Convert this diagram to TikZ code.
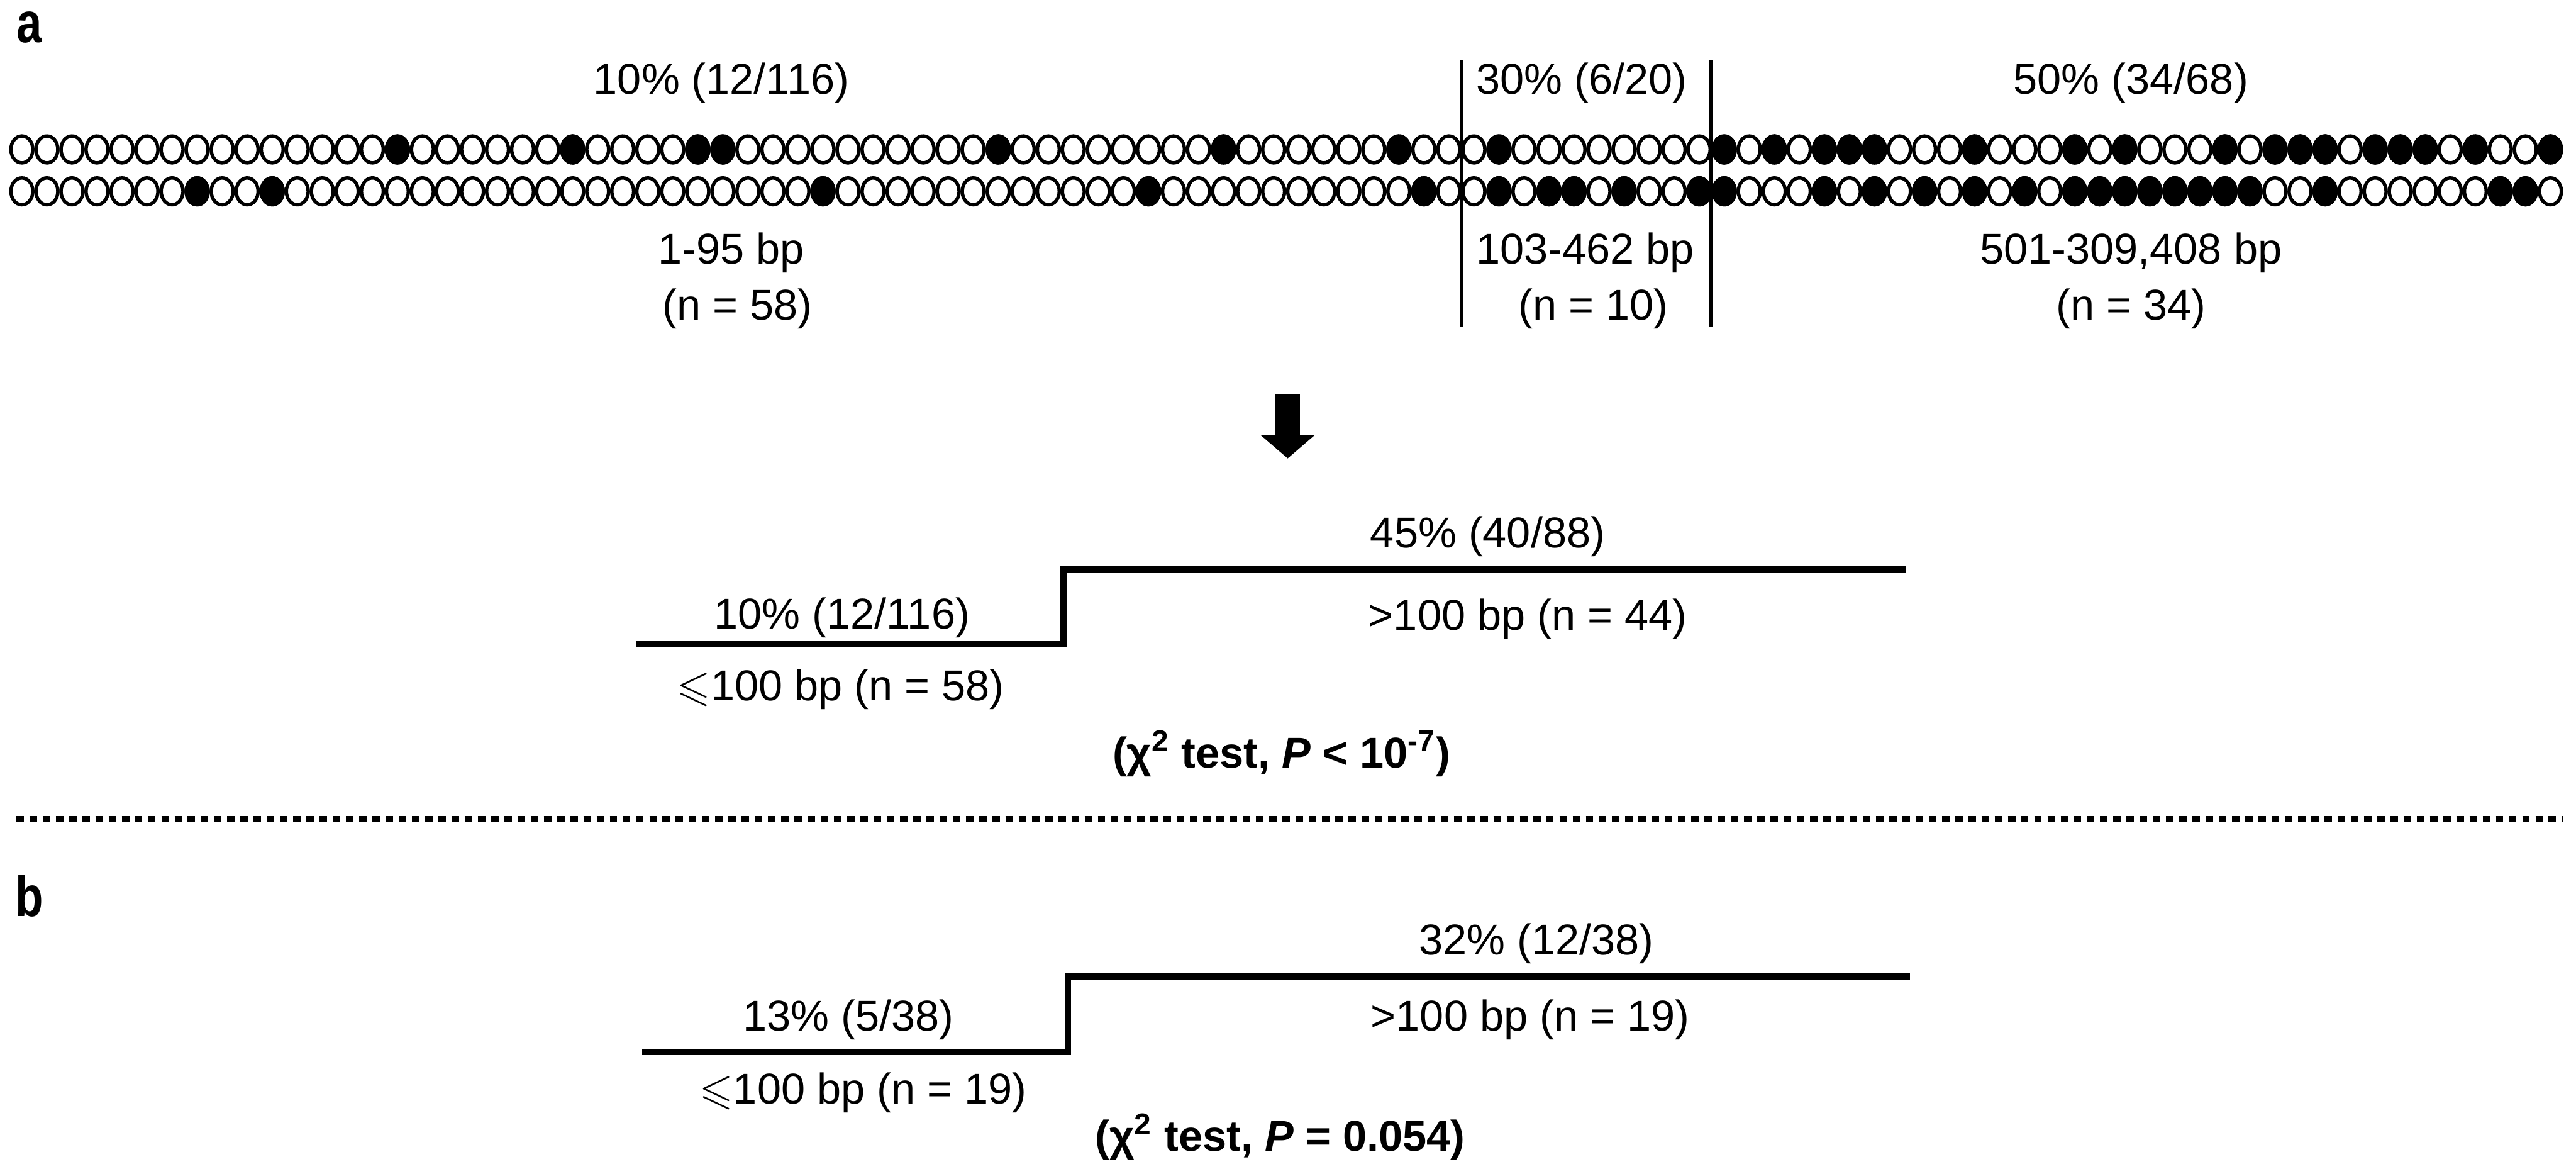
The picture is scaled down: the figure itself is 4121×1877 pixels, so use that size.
\documentclass[tikz,border=0pt]{standalone}
\usepackage{amssymb}
\usepackage{fontspec}
\setmainfont{Liberation Sans}
\begin{document}
\begin{tikzpicture}[x=0.01cm,y=-0.01cm,
  lbl/.style={font=\fontsize{19.6}{23}\selectfont, inner sep=0, anchor=base},
  blbl/.style={font=\fontsize{19.6}{23}\selectfont\bfseries, inner sep=0, anchor=base},
  panel/.style={font=\fontsize{26}{30}\selectfont\bfseries, inner sep=0, anchor=base, xscale=0.8},
  allele/.style={line width=1.56pt, draw=black, fill=white},
  mutant/.style={allele, fill=black},
  sepline/.style={line width=1.4pt},
  stepline/.style={line width=2.85pt, line cap=butt, line join=miter},
  dotline/.style={line width=2.85pt, dash pattern=on 3.4pt off 2.6pt},
]
\useasboundingbox (0,0) rectangle (4121,1877);

% panel labels
\node[panel] (pa) at (47,68) {a};
\node[panel] (pb) at (47,1465) {b};

% section separators
\coordinate (s1t) at (2337.5,96);
\coordinate (s1b) at (2337.5,522);
\coordinate (s2t) at (2737.5,96);
\coordinate (s2b) at (2737.5,522);
\draw[sepline] (s1t) -- (s1b);
\draw[sepline] (s2t) -- (s2b);

% allele rows
\foreach \k in {0,...,101} {
  \path[allele] (35+40.05*\k,239) ellipse [x radius=0.175cm, y radius=0.215cm];
  \path[allele] (35+40.05*\k,306) ellipse [x radius=0.175cm, y radius=0.215cm];
}
\foreach \k in {15,22,27,28,39,48,55,59,68,70,72,73,74,78,82,84,88,90,91,92,94,95,96,98,101} {
  \path[mutant] (35+40.05*\k,239) ellipse [x radius=0.175cm, y radius=0.215cm];
}
\foreach \k in {7,10,32,45,56,59,61,62,64,67,68,72,74,76,78,80,82,83,84,85,86,87,88,89,92,99,100} {
  \path[mutant] (35+40.05*\k,306) ellipse [x radius=0.175cm, y radius=0.215cm];
}

% top labels
\node[lbl] (t1) at (1154,150) {10\% (12/116)};
\node[lbl] (t2) at (2530,150) {30\% (6/20)};
\node[lbl] (t3) at (3409,150) {50\% (34/68)};
\node[lbl] (r1) at (1170,422) {1-95 bp};
\node[lbl] (n1) at (1180,512) {(n = 58)};
\node[lbl] (r2) at (2536,422) {103-462 bp};
\node[lbl] (n2) at (2549,512) {(n = 10)};
\node[lbl] (r3) at (3409,422) {501-309,408 bp};
\node[lbl] (n3) at (3409,512) {(n = 34)};

% arrow
\fill (2040.5,631) -- (2079.5,631) -- (2079.5,696) -- (2103,696) -- (2060,733) -- (2017,696) -- (2040.5,696) -- cycle;

% panel a step
\coordinate (a1) at (1017,1030);
\coordinate (a2) at (1701,1030);
\coordinate (a3) at (1701,911);
\coordinate (a4) at (3048,911);
\draw[stepline] (a1) -- (a2) -- (a3) -- (a4);
\node[lbl] (a45) at (2380,876) {45\% (40/88)};
\node[lbl] (a10) at (1347,1006) {10\% (12/116)};
\node[lbl] (agt) at (2444,1008) {>100 bp (n = 44)};
\node[lbl] (ale) at (1345,1120) {$\leqslant$100 bp (n = 58)};
\node[blbl] (achi) at (2050,1228) {(χ\textsuperscript{2} test, \textit{P} < 10\textsuperscript{-7})};

% dotted divider
\coordinate (d1) at (26,1310);
\coordinate (d2) at (4100,1310);
\draw[dotline] (d1) -- (d2);

% panel b step
\coordinate (b1) at (1027,1682);
\coordinate (b2) at (1708,1682);
\coordinate (b3) at (1708,1561);
\coordinate (b4) at (3055,1561);
\draw[stepline] (b1) -- (b2) -- (b3) -- (b4);
\node[lbl] (b32) at (2458,1527) {32\% (12/38)};
\node[lbl] (b13) at (1357,1648) {13\% (5/38)};
\node[lbl] (bgt) at (2448,1648) {>100 bp (n = 19)};
\node[lbl] (ble) at (1381,1765) {$\leqslant$100 bp (n = 19)};
\node[blbl] (bchi) at (2048,1841) {(χ\textsuperscript{2} test, \textit{P} = 0.054)};
\end{tikzpicture}
\end{document}
